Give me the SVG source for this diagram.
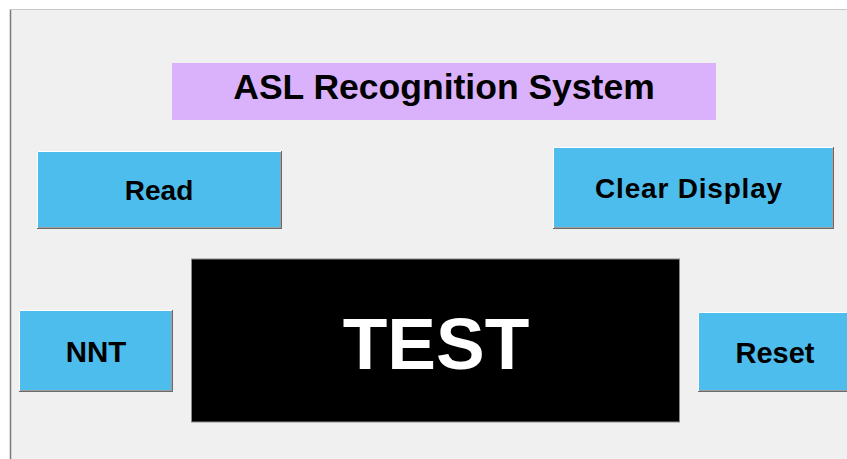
<svg xmlns="http://www.w3.org/2000/svg" width="847" height="459" viewBox="0 0 847 459">
  <style>
    .btn-face { fill: #4dbdee; }
    .hl { stroke: #ffffff; stroke-width: 1; fill: none; }
    .sh-in { stroke: #a0a0a0; stroke-width: 1; fill: none; }
    .sh-out { stroke: #6a6a6a; stroke-width: 1; fill: none; }
    .lbl { font-family: "Liberation Sans", Arial, sans-serif; font-weight: bold; fill: #000000; text-anchor: middle; }
  </style>

  <!-- window backdrop and frame -->
  <rect x="0" y="0" width="847" height="459" fill="#ffffff"/>
  <rect x="10" y="9" width="837" height="450" fill="#f0f0f0"/>
  <line x1="10.5" y1="9" x2="10.5" y2="459" stroke="#7a7a7a" stroke-width="1.5"/>
  <line x1="10" y1="9.5" x2="847" y2="9.5" stroke="#c8c8c8" stroke-width="1"/>

  <!-- title banner -->
  <g id="title">
    <rect x="172" y="63" width="544" height="57" fill="#dab2fc"/>
    <text class="lbl" x="444" y="99" font-size="35.5">ASL Recognition System</text>
  </g>

  <!-- Read button -->
  <g id="btn-read">
    <rect class="btn-face" x="37" y="151" width="245" height="78"/>
    <path class="hl" d="M37.5,228 V151.5 H281"/>
    <path class="sh-in" d="M38,227.5 H280.5 V152"/>
    <path class="sh-out" d="M37,228.5 H281.5 V151"/>
    <text class="lbl" x="159" y="200" font-size="28">Read</text>
  </g>

  <!-- Clear Display button -->
  <g id="btn-clear">
    <rect class="btn-face" x="553" y="147" width="281" height="82"/>
    <path class="hl" d="M553.5,228 V147.5 H833"/>
    <path class="sh-in" d="M554,227.5 H832.5 V148"/>
    <path class="sh-out" d="M553,228.5 H833.5 V147"/>
    <text class="lbl" x="689" y="197.5" font-size="28" letter-spacing="0.8">Clear Display</text>
  </g>

  <!-- NNT button -->
  <g id="btn-nnt">
    <rect class="btn-face" x="19" y="310" width="154" height="82"/>
    <path class="hl" d="M19.5,391 V310.5 H172"/>
    <path class="sh-in" d="M20,390.5 H171.5 V311"/>
    <path class="sh-out" d="M19,391.5 H172.5 V310"/>
    <text class="lbl" x="96" y="361.5" font-size="29.5">NNT</text>
  </g>

  <!-- output display -->
  <g id="display">
    <rect x="191.5" y="259" width="488" height="163" fill="#000000" stroke="#8a8a8a" stroke-width="1"/>
    <text class="lbl" x="436" y="368.5" font-size="73" style="fill:#ffffff">TEST</text>
  </g>

  <!-- Reset button -->
  <g id="btn-reset">
    <rect class="btn-face" x="698" y="312" width="149" height="80"/>
    <path class="hl" d="M698.5,391 V312.5 H847"/>
    <path class="sh-in" d="M699,390.5 H847"/>
    <path class="sh-out" d="M698,391.5 H847"/>
    <text class="lbl" x="775" y="363" font-size="29">Reset</text>
  </g>

  <!-- no connectors in this layout -->
  <g id="connectors"/>
</svg>
